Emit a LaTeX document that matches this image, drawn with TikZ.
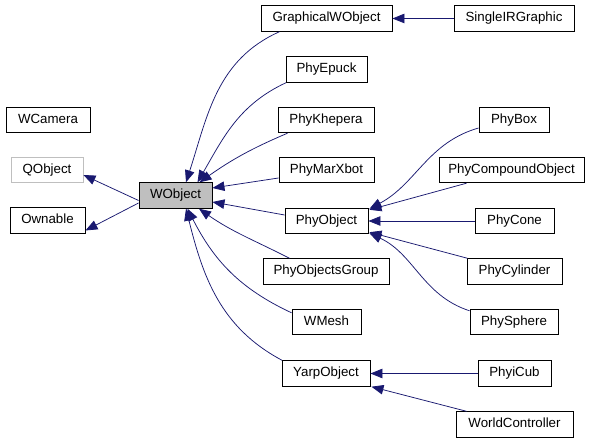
\documentclass[tikz,border=0pt]{standalone}
\usepackage{fontspec}
\setmainfont{Liberation Sans}
\usetikzlibrary{arrows.meta}
\definecolor{edgeblue}{HTML}{191970}
\definecolor{boxgray}{HTML}{BFBFBF}
\begin{document}
\begin{tikzpicture}[x=1bp,y=1bp,
  box/.style={draw=black, line width=0.9bp, minimum height=25.5bp, inner sep=0pt,
    font=\fontsize{13.3bp}{16bp}\selectfont, text height=9.6bp, text depth=2.8bp},
  edge/.style={draw=edgeblue, line width=0.75bp,
    -{Triangle[length=12bp,width=9.5bp,fill=edgeblue]}}]
\useasboundingbox (0,0) rectangle (595,443);
% nodes
\node[box, minimum width=84bp] (WCamera) at (48,323) {WCamera};
\node[box, draw=boxgray, minimum width=72bp] (QObject) at (47,273) {QObject};
\node[box, minimum width=75bp] (Ownable) at (47.5,222.5) {Ownable};
\node[box, fill=boxgray, minimum width=73bp] (WObject) at (175.5,247.5) {WObject};
\node[box, minimum width=131bp] (Graphical) at (326.5,424.5) {GraphicalWObject};
\node[box, minimum width=120bp] (SingleIR) at (514,424.5) {SingleIRGraphic};
\node[box, minimum width=81bp] (Epuck) at (326.5,373.5) {PhyEpuck};
\node[box, minimum width=96bp] (Khepera) at (326,323) {PhyKhepera};
\node[box, minimum width=70bp] (PhyBox) at (514,323) {PhyBox};
\node[box, minimum width=95bp] (MarXbot) at (326.5,273) {PhyMarXbot};
\node[box, minimum width=145bp] (Compound) at (511.5,273) {PhyCompoundObject};
\node[box, minimum width=83bp] (PhyObject) at (326.5,222) {PhyObject};
\node[box, minimum width=79bp] (Cone) at (514.5,222) {PhyCone};
\node[box, minimum width=126bp] (Group) at (326,171.5) {PhyObjectsGroup};
\node[box, minimum width=95bp] (Cylinder) at (514.5,171.5) {PhyCylinder};
\node[box, minimum width=69bp] (WMesh) at (326.5,121) {WMesh};
\node[box, minimum width=88bp] (Sphere) at (514,121) {PhySphere};
\node[box, minimum width=88bp] (Yarp) at (326,69.5) {YarpObject};
\node[box, minimum width=73bp] (iCub) at (514.5,69.5) {PhyiCub};
\node[box, minimum width=117bp] (WorldCtl) at (514.5,18.5) {WorldController};
% edges into WObject
\draw[edge] ([yshift=-5bp]WObject.west) -- ([yshift=-5bp]QObject.east);
\draw[edge] ([yshift=-7.5bp]WObject.west) -- ([yshift=-10bp]Ownable.east);
\draw[edge] ([xshift=19bp]Graphical.south west) to[out=204,in=72] ([xshift=10.5bp]WObject.north);
\draw[edge] ([xshift=0.5bp]Epuck.south west) to[out=205,in=60] ([xshift=22bp]WObject.north);
\draw[edge] ([xshift=10bp]Khepera.south west) to[out=203,in=35] ([xshift=24bp]WObject.north);
\draw[edge] ([yshift=-8bp]MarXbot.west) -- ([yshift=7.5bp]WObject.east);
\draw[edge] ([yshift=6bp]PhyObject.west) -- ([yshift=-6.5bp]WObject.east);
\draw[edge] ([xshift=27bp]Group.north west) to[out=153,in=-35] ([xshift=23.5bp]WObject.south);
\draw[edge] ([yshift=-4bp]WMesh.north west) to[out=155,in=-63] ([xshift=12bp]WObject.south);
\draw[edge] ([xshift=0.5bp]Yarp.north west) to[out=152,in=-76] ([xshift=10.5bp]WObject.south);
% other edges
\draw[edge] (SingleIR.west) -- (Graphical.east);
\draw[edge] ([yshift=-8bp]PhyBox.west) to[out=196,in=28] ([xshift=1bp,yshift=-1bp]PhyObject.north east);
\draw[edge] ([xshift=28bp]Compound.south west) -- ([xshift=1bp,yshift=-2bp]PhyObject.north east);
\draw[edge] (Cone.west) -- (PhyObject.east);
\draw[edge] ([xshift=1bp]Cylinder.north west) -- ([xshift=1bp,yshift=2bp]PhyObject.south east);
\draw[edge] ([xshift=0bp,yshift=-2bp]Sphere.north west) to[out=162,in=-25] ([xshift=1bp,yshift=1bp]PhyObject.south east);
\draw[edge] (iCub.west) -- (Yarp.east);
\draw[edge] ([xshift=11bp]WorldCtl.north west) -- ([xshift=1bp]Yarp.south east);
\end{tikzpicture}
\end{document}
